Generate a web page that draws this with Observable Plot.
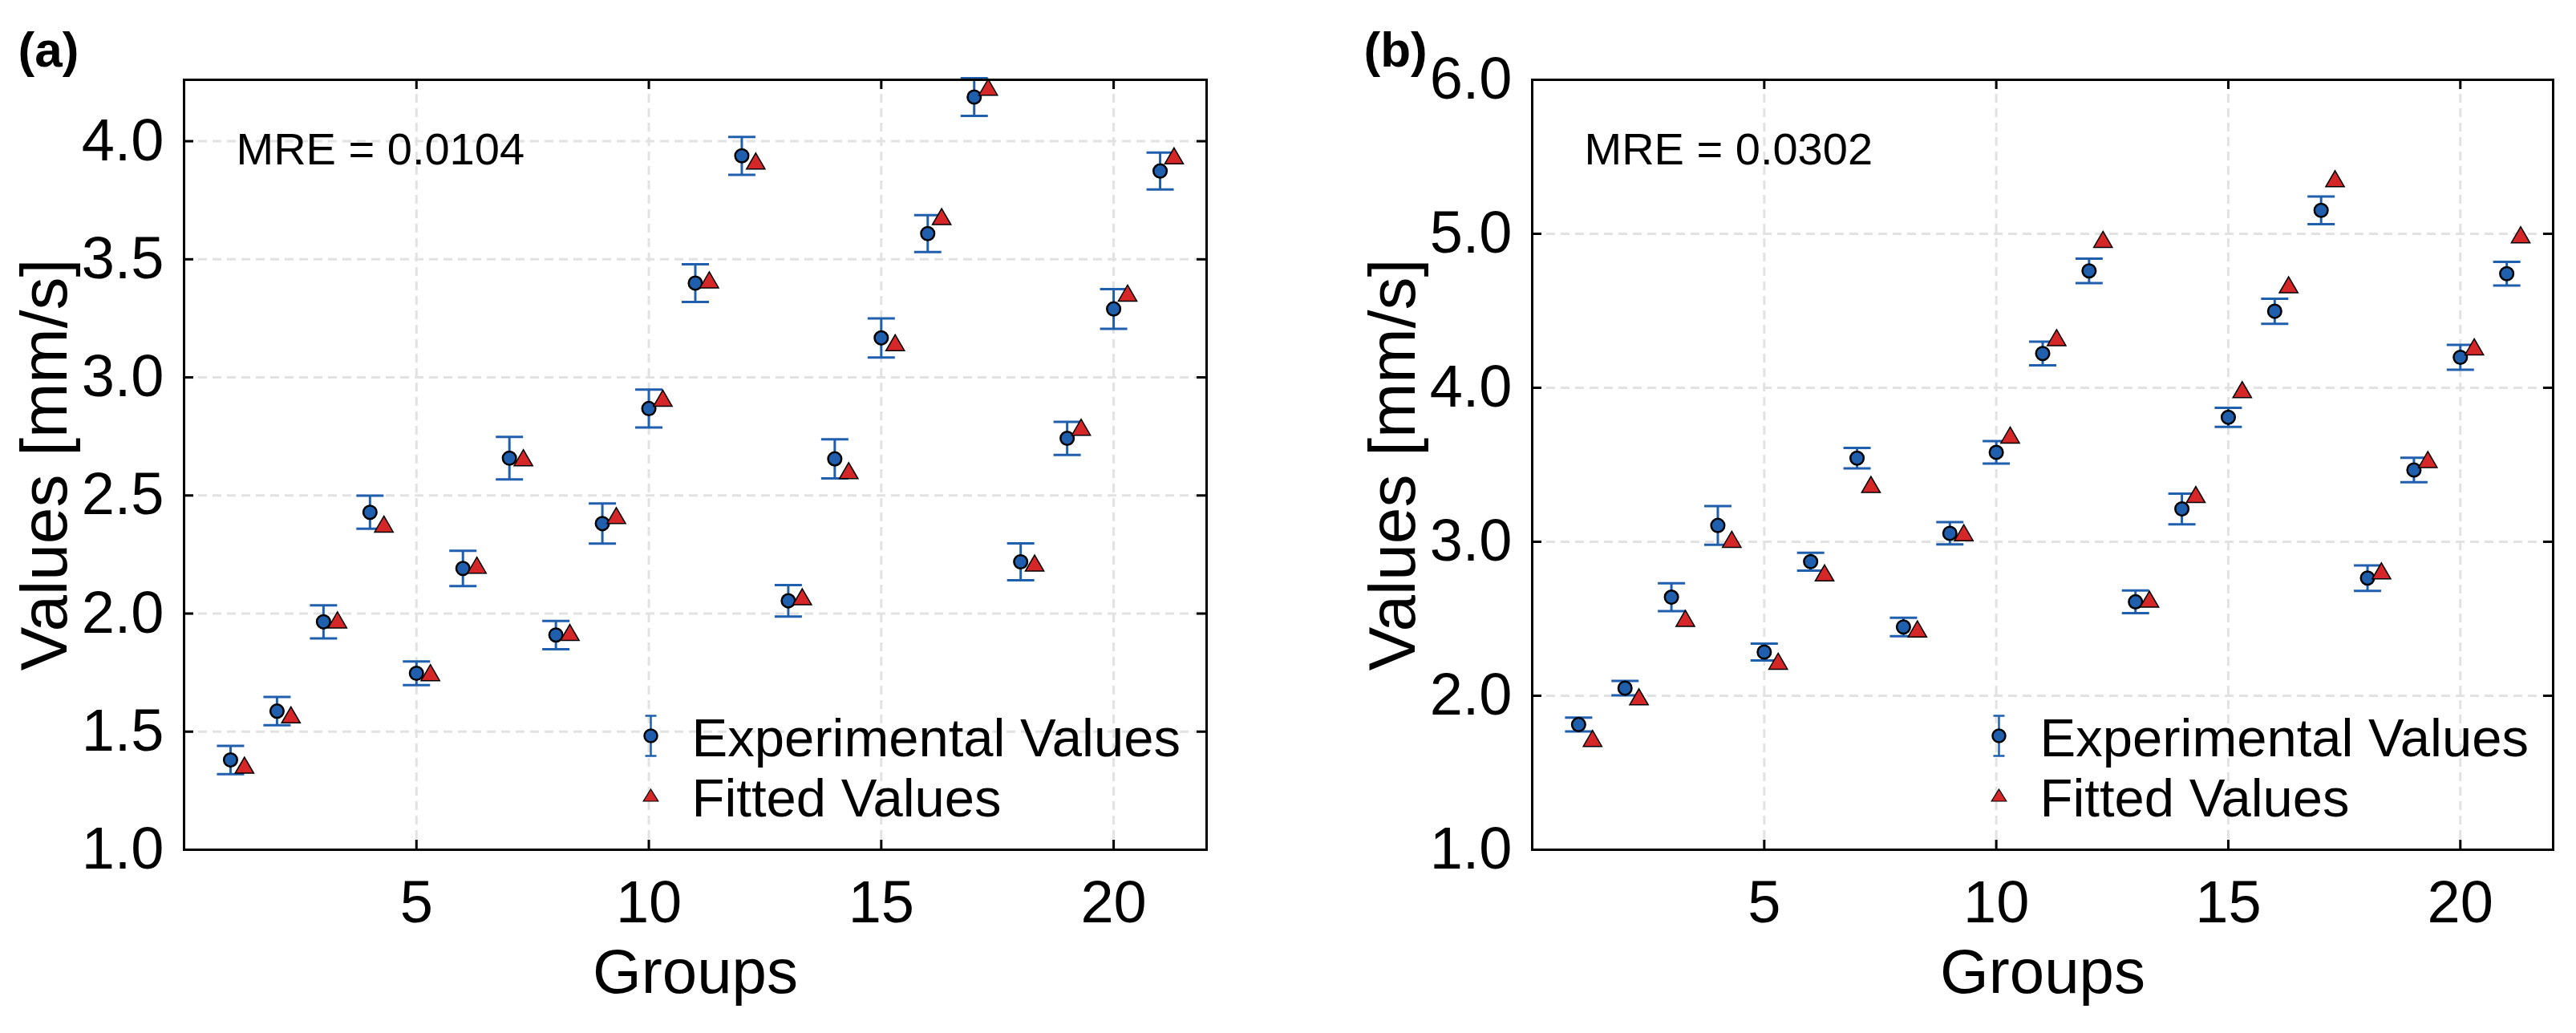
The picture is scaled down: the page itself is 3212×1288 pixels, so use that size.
<!DOCTYPE html>
<html><head><meta charset="utf-8">
<script src="https://cdn.jsdelivr.net/npm/d3@7"></script>
<script src="https://cdn.jsdelivr.net/npm/@observablehq/plot@0.6"></script>
<style>
html,body{margin:0;padding:0;background:#fff;}
#wrap{display:flex;width:3212px;height:1288px;overflow:hidden;}
#wrap svg{overflow:visible;display:block;}
</style></head><body><div id="wrap"></div>
<script>
// ---- data ----
const groups = [1,2,3,4,5,6,7,8,9,10,11,12,13,14,15,16,17,18,19,20,21];
const xTicks = [5,10,15,20];
const xDomain = [0,22];

const expA = [1.38,1.587,1.965,2.429,1.747,2.191,2.658,1.909,2.381,2.868,3.399,3.938,2.054,2.655,3.167,3.609,4.187,2.219,2.742,3.29,3.874];
const errA = [0.06,0.06,0.07,0.07,0.05,0.075,0.09,0.06,0.085,0.08,0.08,0.08,0.067,0.083,0.083,0.078,0.08,0.078,0.07,0.084,0.078];
const fitA = [1.358,1.571,1.973,2.379,1.75,2.205,2.66,1.92,2.415,2.912,3.413,3.916,2.071,2.605,3.147,3.681,4.229,2.214,2.789,3.357,3.938];
const yTicksA = [1.0,1.5,2.0,2.5,3.0,3.5,4.0];
const yDomainA = [1.0,4.26];

const expB = [1.813,2.049,2.64,3.106,2.284,2.871,3.543,2.447,3.055,3.581,4.223,4.759,2.61,3.213,3.808,4.497,5.152,2.764,3.466,4.198,4.741];
const errB = [0.045,0.047,0.09,0.126,0.055,0.058,0.066,0.06,0.072,0.073,0.077,0.079,0.073,0.1,0.062,0.081,0.09,0.083,0.079,0.081,0.077];
const fitB = [1.723,1.993,2.503,3.016,2.224,2.798,3.372,2.434,3.059,3.693,4.326,4.964,2.627,3.307,3.988,4.669,5.358,2.811,3.534,4.266,4.994];
const yTicksB = [1.0,2.0,3.0,4.0,5.0,6.0];
const yDomainB = [1.0,6.0];

const fitOffset = 0.3;
const xLabel = "Groups";
const yLabel = "Values [mm/s]";
const legendLabels = ["Experimental Values","Fitted Values"];

// ---- style ----
const FONT = "'Liberation Sans', Arial, Helvetica, sans-serif";
const BLUE = "#1f5fae";
const RED = "#d62728";
const GRID = "#e2e2e2";

const capSym = {draw(ctx){ ctx.moveTo(-17,0); ctx.lineTo(17,0); }};
const triSym = {draw(ctx){ ctx.moveTo(0,-10); ctx.lineTo(11.6,10); ctx.lineTo(-11.6,10); ctx.closePath(); }};
const legTri = {draw(ctx){ ctx.moveTo(0,-7.5); ctx.lineTo(9.3,7.5); ctx.lineTo(-9.3,7.5); ctx.closePath(); }};
const legErr = {draw(ctx){
  ctx.moveTo(0,-25); ctx.lineTo(0,25);
  ctx.moveTo(-7,-25); ctx.lineTo(7,-25);
  ctx.moveTo(-7,25); ctx.lineTo(7,25);
}};

const PW = 1606, PH = 1288, MT = 99, MB = 229;

function panel(cfg){
  const data = groups.map((g,i)=>({g, e: cfg.exp[i], f: cfg.fit[i], lo: cfg.exp[i]-cfg.err[i], hi: cfg.exp[i]+cfg.err[i]}));
  const W = PW - cfg.ml - cfg.mr, H = PH - MT - MB;
  const tick = {stroke:"black", strokeWidth:3};
  return Plot.plot({
    width: PW, height: PH,
    marginLeft: cfg.ml, marginRight: cfg.mr, marginTop: MT, marginBottom: MB,
    x: {domain: xDomain},
    y: {domain: cfg.yDomain},
    style: {fontFamily: FONT, background: "white", color: "black", overflow: "visible"},
    marks: [
      Plot.gridX(xTicks, {stroke: GRID, strokeOpacity: 1, strokeWidth: 3, strokeDasharray: "11,7"}),
      Plot.gridY(cfg.yTicks, {stroke: GRID, strokeOpacity: 1, strokeWidth: 3, strokeDasharray: "11,7"}),
      Plot.ruleX(data, {x: "g", y1: "lo", y2: "hi", stroke: BLUE, strokeWidth: 3}),
      Plot.dot(data, {x: "g", y: "lo", symbol: capSym, fill: "none", stroke: BLUE, strokeWidth: 3}),
      Plot.dot(data, {x: "g", y: "hi", symbol: capSym, fill: "none", stroke: BLUE, strokeWidth: 3}),
      Plot.dot(data, {x: "g", y: "e", r: 8.3, fill: BLUE, stroke: "black", strokeWidth: 2.5}),
      Plot.dot(data, {x: d => d.g + fitOffset, y: "f", symbol: triSym, fill: RED, stroke: "black", strokeWidth: 1.5}),
      Plot.frame({stroke: "black", strokeWidth: 3}),
      Plot.ruleY(cfg.yTicks, {...tick, insetRight: W - 12}),
      Plot.ruleY(cfg.yTicks, {...tick, insetLeft: W - 12}),
      Plot.ruleX(xTicks, {...tick, insetTop: H - 12}),
      Plot.ruleX(xTicks, {...tick, insetBottom: H - 12}),
      Plot.axisX(xTicks, {anchor: "bottom", tickSize: 0, tickPadding: 38, fontSize: 74, label: null}),
      Plot.axisY(cfg.yTicks, {anchor: "left", tickSize: 0, tickPadding: 25, fontSize: 74, tickFormat: d3.format(".1f"), label: null}),
      Plot.text([cfg.mre], {text: d => d, frameAnchor: "top-left", dx: 65, dy: 105, lineAnchor: "bottom", textAnchor: "start", fontSize: 56}),
      // legend
      Plot.dot([0], {frameAnchor: "top-left", dx: 582, dy: 818, symbol: legErr, fill: "none", stroke: BLUE, strokeWidth: 2.5}),
      Plot.dot([0], {frameAnchor: "top-left", dx: 582, dy: 818, r: 8, fill: BLUE, stroke: "black", strokeWidth: 2.5}),
      Plot.dot([0], {frameAnchor: "top-left", dx: 582, dy: 892, symbol: legTri, fill: RED, stroke: "black", strokeWidth: 1.2}),
      Plot.text([legendLabels[0]], {text: d => d, frameAnchor: "top-left", dx: 633, dy: 843, lineAnchor: "bottom", textAnchor: "start", fontSize: 67}),
      Plot.text([legendLabels[1]], {text: d => d, frameAnchor: "top-left", dx: 633, dy: 918, lineAnchor: "bottom", textAnchor: "start", fontSize: 67}),
      // axis labels
      Plot.text([yLabel], {text: d => d, frameAnchor: "left", rotate: -90, dx: -147, lineAnchor: "bottom", textAnchor: "middle", fontSize: 82}),
      Plot.text([xLabel], {text: d => d, frameAnchor: "bottom", dy: 178, lineAnchor: "bottom", textAnchor: "middle", fontSize: 78}),
      Plot.text([cfg.tag], {text: d => d, frameAnchor: "top-left", dx: cfg.tagDx, dy: -17, lineAnchor: "bottom", textAnchor: "start", fontSize: 62, fontWeight: "bold"})
    ]
  });
}

const wrap = document.getElementById("wrap");
wrap.appendChild(panel({tag: "(a)", tagDx: -207, mre: "MRE = 0.0104", exp: expA, err: errA, fit: fitA, yTicks: yTicksA, yDomain: yDomainA, ml: 229, mr: 102}));
wrap.appendChild(panel({tag: "(b)", tagDx: -210, mre: "MRE = 0.0302", exp: expB, err: errB, fit: fitB, yTicks: yTicksB, yDomain: yDomainB, ml: 304, mr: 29}));
</script></body></html>
